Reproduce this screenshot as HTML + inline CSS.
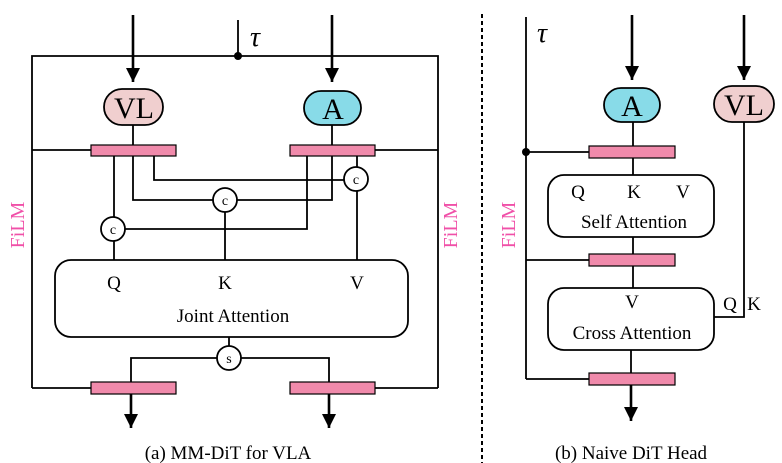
<!DOCTYPE html>
<html><head><style>html,body{margin:0;padding:0;background:#fff}svg{display:block}</style></head><body>
<svg width="782" height="463" viewBox="0 0 782 463" xmlns="http://www.w3.org/2000/svg" font-family="Liberation Serif, serif">
<defs><marker id="ah" viewBox="0 0 10 10" refX="10" refY="5" markerWidth="14" markerHeight="14" markerUnits="userSpaceOnUse" orient="auto"><path d="M0,0 L10,5 L0,10 Z" fill="#000"/></marker></defs>
<g stroke="#000" stroke-width="1.8" fill="none">
<!-- left panel frame -->
<polyline points="32,388 32,56 438,56 438,388"/>
<line x1="32" y1="150" x2="91" y2="150"/>
<line x1="375" y1="150" x2="438" y2="150"/>
<line x1="32" y1="388" x2="91" y2="388"/>
<line x1="375" y1="388" x2="438" y2="388"/>
<line x1="238" y1="20" x2="238" y2="56"/>
<line x1="133" y1="15" x2="133" y2="82" stroke-width="2.6" marker-end="url(#ah)"/>
<line x1="332" y1="15" x2="332" y2="82" stroke-width="2.6" marker-end="url(#ah)"/>
<line x1="133" y1="125" x2="133" y2="145"/>
<line x1="332" y1="125" x2="332" y2="145"/>
<line x1="114" y1="156" x2="114" y2="260"/>
<polyline points="133,156 133,200 332,200 332,156"/>
<polyline points="154,156 154,180 357,180"/>
<polyline points="307,156 307,229 114,229"/>
<line x1="357" y1="156" x2="357" y2="260"/>
<line x1="225" y1="200" x2="225" y2="260"/>
<rect x="55" y="260" width="353" height="77" rx="16" fill="#fff"/>
<line x1="229" y1="337" x2="229" y2="358"/>
<polyline points="131,382 131,358 329,358 329,382"/>
<line x1="131" y1="394" x2="131" y2="428" stroke-width="2.6" marker-end="url(#ah)"/>
<line x1="329" y1="394" x2="329" y2="428" stroke-width="2.6" marker-end="url(#ah)"/>
<!-- right panel -->
<line x1="526" y1="17" x2="526" y2="379"/>
<line x1="526" y1="152" x2="589" y2="152"/>
<line x1="526" y1="260" x2="589" y2="260"/>
<line x1="526" y1="379" x2="589" y2="379"/>
<line x1="632" y1="15" x2="632" y2="80" stroke-width="2.6" marker-end="url(#ah)"/>
<line x1="744" y1="15" x2="744" y2="80" stroke-width="2.6" marker-end="url(#ah)"/>
<line x1="633" y1="122" x2="633" y2="175"/>
<line x1="633" y1="237" x2="633" y2="288"/>
<line x1="631" y1="350" x2="631" y2="373"/>
<polyline points="744,122 744,317 714,317"/>
<line x1="631" y1="385" x2="631" y2="421" stroke-width="2.6" marker-end="url(#ah)"/>
<rect x="548" y="175" width="166" height="62" rx="16" fill="#fff"/>
<rect x="548" y="288" width="166" height="62" rx="16" fill="#fff"/>
</g>
<line x1="482" y1="14" x2="482" y2="463" stroke="#000" stroke-width="2" stroke-dasharray="4,3"/>
<circle cx="238" cy="56" r="4" fill="#000"/>
<circle cx="526" cy="152" r="4" fill="#000"/>
<g stroke="#000" stroke-width="1.8">
<rect x="104" y="89" width="59" height="36" rx="18" fill="#f0cfcf"/>
<rect x="304" y="91" width="57" height="34" rx="17" fill="#88dbe8"/>
<rect x="604" y="88" width="56" height="34" rx="17" fill="#88dbe8"/>
<rect x="714" y="86" width="60" height="36" rx="18" fill="#f0cfcf"/>
<g fill="#f08aab" stroke-width="1.2">
<rect x="91" y="145" width="85" height="11"/><rect x="290" y="145" width="85" height="11"/>
<rect x="91" y="382" width="85" height="12"/><rect x="290" y="382" width="85" height="12"/>
<rect x="589" y="146" width="86" height="12"/><rect x="589" y="254" width="86" height="12"/><rect x="589" y="373" width="86" height="12"/>
</g>
<g fill="#fff">
<circle cx="113" cy="229" r="12"/><circle cx="225" cy="200" r="12"/><circle cx="356" cy="179" r="12"/><circle cx="229" cy="358" r="12"/>
</g>
</g>
<g font-size="14" text-anchor="middle">
<text x="113" y="234">c</text><text x="225" y="205">c</text><text x="356" y="184">c</text><text x="229" y="363">s</text>
</g>
<g font-size="30" text-anchor="middle">
<text x="134" y="118">VL</text><text x="333" y="119">A</text><text x="632" y="116">A</text><text x="744" y="115">VL</text>
</g>
<g font-size="28" font-style="italic"><text x="250" y="46">τ</text><text x="537" y="42">τ</text></g>
<g font-size="19" text-anchor="middle">
<text x="114" y="289">Q</text><text x="225" y="289">K</text><text x="357" y="289">V</text>
<text x="233" y="322">Joint Attention</text>
<text x="578" y="198">Q</text><text x="634" y="198">K</text><text x="683" y="198">V</text>
<text x="634" y="228">Self Attention</text>
<text x="632" y="308">V</text>
<text x="632" y="339">Cross Attention</text>
<text x="730" y="310">Q</text><text x="754" y="310">K</text>
<text x="228" y="459">(a)  MM-DiT for VLA</text>
<text x="631" y="459">(b) Naive DiT Head</text>
</g>
<g font-size="20" fill="#f050a8" text-anchor="middle">
<text transform="translate(24,225) rotate(-90)">FiLM</text>
<text transform="translate(457,225) rotate(-90)">FiLM</text>
<text transform="translate(515,225) rotate(-90)">FiLM</text>
</g>
</svg>
</body></html>
